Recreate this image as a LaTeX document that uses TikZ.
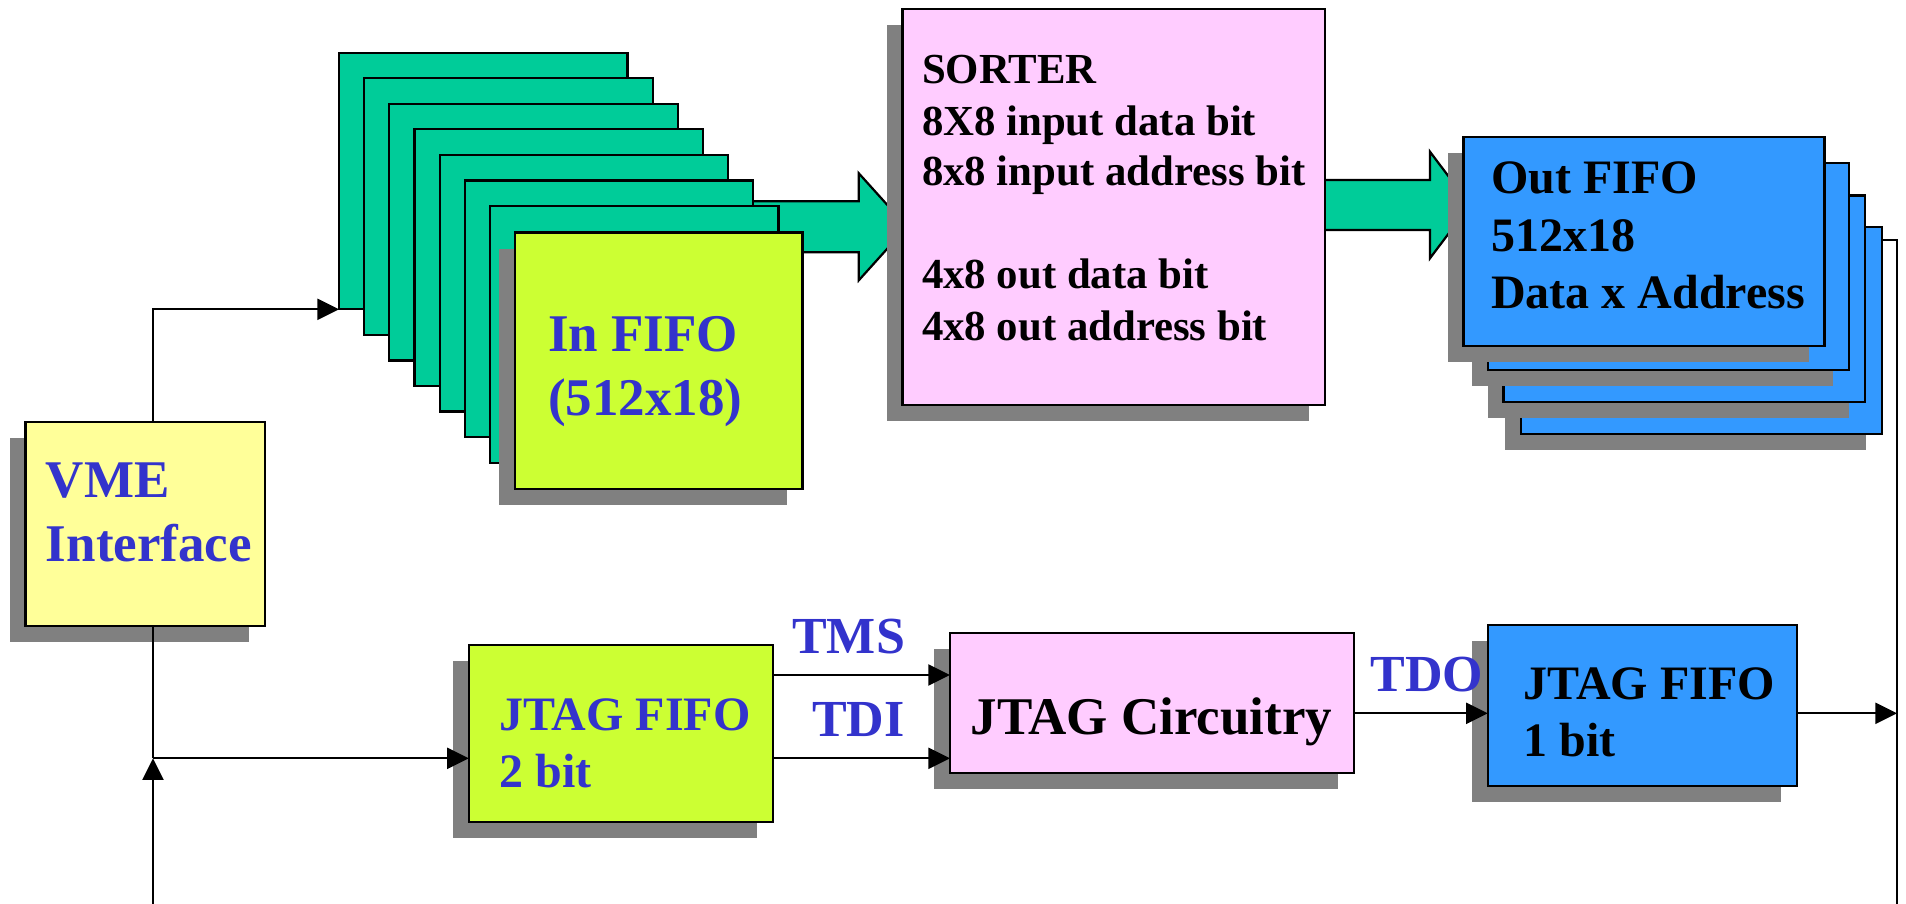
\documentclass[tikz,border=0pt]{standalone}
\usepackage{fontspec}
\setmainfont{Liberation Serif}
\usetikzlibrary{arrows.meta,fit,shadows,calc}
\definecolor{gteal}{HTML}{00CC99}
\definecolor{limeb}{HTML}{CCFF33}
\definecolor{vmey}{HTML}{FFFF99}
\definecolor{pinkb}{HTML}{FFCCFF}
\definecolor{blueb}{HTML}{3399FF}
\definecolor{shgray}{HTML}{808080}
\definecolor{txtblue}{HTML}{3333CC}
\begin{document}
\begin{tikzpicture}[x=0.5pt,y=-0.5pt,
  box/.style={draw=black, line width=1.1pt, inner sep=0pt, outer sep=0pt},
  sh/.style={general shadow={fill=shgray, shadow xshift=-8pt, shadow yshift=-8pt}},
  barrow/.style={draw=black, line width=1.1pt, fill=gteal, line join=miter},
  ln/.style={draw=black, line width=1pt},
  arr/.style={ln, -{Triangle[length=10.8pt,width=10.5pt]}},
  lbl/.style={anchor=base west, inner sep=0pt, outer sep=0pt},
  f43/.style={font=\fontsize{21.4pt}{25pt}\selectfont\bfseries},
  f48/.style={font=\fontsize{24pt}{29pt}\selectfont\bfseries},
  f52/.style={font=\fontsize{26pt}{31pt}\selectfont\bfseries},
  f53/.style={font=\fontsize{26.5pt}{32pt}\selectfont\bfseries}
]
\fill[white] (0,0) rectangle (1906,904);
\useasboundingbox (0,0) rectangle (1906,904);

% green block arrows (behind the boxes)
\draw[barrow] (700,201.3) -- (858.8,201.3) -- (858.8,173.3) -- (907,226.8)
  -- (858.8,280.3) -- (858.8,252.3) -- (700,252.3) -- cycle;
\draw[barrow] (1310,180) -- (1430,180) -- (1430,151.7) -- (1470,205)
  -- (1430,258.3) -- (1430,230) -- (1310,230) -- cycle;

% In FIFO stack
\foreach \i in {0,...,6}{
  \node (g\i) [box, fill=gteal,
    fit={({339+25.15*\i},{52.7+25.55*\i}) ({627.5+25.15*\i},{309.3+25.55*\i})}] {};
}
\node (infifo) [box, fill=limeb, sh, fit={(515,232.5) (802.5,489)}] {};

% Sorter
\node (sorter) [box, fill=pinkb, sh, fit={(902.5,9) (1324.7,405)}] {};

% Out FIFO stack
\node (o4) [box, fill=blueb, sh, fit={(1520.7,227) (1882,433.8)}] {};
\node (o3) [box, fill=blueb, sh, fit={(1503.5,195.5) (1865,402.2)}] {};
\node (o2) [box, fill=blueb, sh, fit={(1487.7,162.7) (1849,369.8)}] {};
\node (o1) [box, fill=blueb, sh, fit={(1463.5,136.7) (1824.5,346)}] {};

% lower boxes
\node (vme) [box, fill=vmey, sh, fit={(25.5,421.7) (265.3,626)}] {};
\node (jf2) [box, fill=limeb, sh, fit={(468.8,645.3) (773,821.7)}] {};
\node (jc)  [box, fill=pinkb, sh, fit={(950,632.7) (1354.2,773.3)}] {};
\node (jf1) [box, fill=blueb, sh, fit={(1487.7,625) (1797,786)}] {};

% texts
\node (vmeA) [lbl, f53, text=txtblue] at (46,497) {VME};
\node (vmeB) [lbl, f53, text=txtblue] at (46,561.6) {Interface};
\node (inA) [lbl, f53, text=txtblue] at (548,351.7) {In FIFO};
\node (inB) [lbl, f53, text=txtblue] at (548,415) {(512x18)};
\node (soA) [lbl, f43] at (922,83.3) {SORTER};
\node (soB) [lbl, f43] at (922,135) {8X8 input data bit};
\node (soC) [lbl, f43] at (922,185.7) {8x8 input address bit};
\node (soD) [lbl, f43] at (922,288.3) {4x8 out data bit};
\node (soE) [lbl, f43] at (922,340) {4x8 out address bit};
\node (ofA) [lbl, f48] at (1491,193.3) {Out FIFO};
\node (ofB) [lbl, f48] at (1491,251) {512x18};
\node (ofC) [lbl, f48] at (1491,308.3) {Data x Address};
\node (j2A) [lbl, f48, text=txtblue] at (499.4,730.7) {JTAG FIFO};
\node (j2B) [lbl, f48, text=txtblue] at (499.4,787.7) {2 bit};
\node (jcA) [lbl, f53] at (970.6,734) {JTAG Circuitry};
\node (j1A) [lbl, f48] at (1523.6,699.3) {JTAG FIFO};
\node (j1B) [lbl, f48] at (1523.6,756.7) {1 bit};
\node (tms) [lbl, f52, text=txtblue] at (792.3,653.3) {TMS};
\node (tdi) [lbl, f52, text=txtblue] at (812.3,736.7) {TDI};
\node (tdo) [lbl, f52, text=txtblue] at (1370.7,691.7) {TDO};

% connectors
\coordinate (bus) at (153,904);
\coordinate (junc) at (153,758.3);
\coordinate (tmsY) at (0,675);
\coordinate (tdoY) at (0,713.3);
\coordinate (stub) at (1897,240);
\coordinate (rbus) at (1897,904);
\draw[arr] (vme.north -| bus) |- (g0.south west);
\draw[ln] (vme.south -| bus) -- (junc);
\draw[arr] (junc) -- (junc -| jf2.west);
\draw[arr] (bus) -- (junc);
\draw[arr] (jf2.east |- tmsY) -- (jc.west |- tmsY);
\draw[arr] (jf2.east |- junc) -- (jc.west |- junc);
\draw[arr] (jc.east |- tdoY) -- (jf1.west |- tdoY);
\draw[ln] (o4.east |- stub) -- (stub) -- (rbus);
\draw[arr] (jf1.east |- tdoY) -- (rbus |- tdoY);
\end{tikzpicture}
\end{document}
